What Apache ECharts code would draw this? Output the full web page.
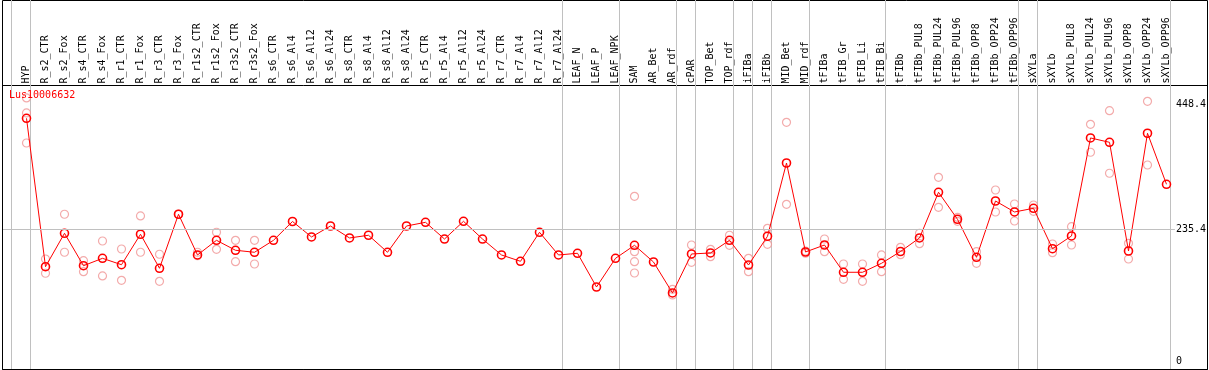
<!DOCTYPE html>
<html>
<head>
<meta charset="utf-8">
<script src="https://cdn.jsdelivr.net/npm/echarts@6.0.0/dist/echarts.min.js"></script>
<style>
  html, body { margin: 0; padding: 0; background: #fff; }
  #chart { width: 1209px; height: 370px; }
</style>
</head>
<body>
<div id="chart"></div>
<script>
var geneId = 'Lus10006632';

var categories = ['HYP',
  'R_s2_CTR', 'R_s2_Fox', 'R_s4_CTR', 'R_s4_Fox', 'R_r1_CTR', 'R_r1_Fox', 'R_r3_CTR', 'R_r3_Fox',
  'R_r1s2_CTR', 'R_r1s2_Fox', 'R_r3s2_CTR', 'R_r3s2_Fox', 'R_s6_CTR', 'R_s6_Al4', 'R_s6_Al12', 'R_s6_Al24',
  'R_s8_CTR', 'R_s8_Al4', 'R_s8_Al12', 'R_s8_Al24', 'R_r5_CTR', 'R_r5_Al4', 'R_r5_Al12', 'R_r5_Al24',
  'R_r7_CTR', 'R_r7_Al4', 'R_r7_Al12', 'R_r7_Al24',
  'LEAF_N', 'LEAF_P', 'LEAF_NPK',
  'SAM', 'AR_Bet', 'AR_rdf',
  'cPAR',
  'TOP_Bet', 'TOP_rdf',
  'iFIBa',
  'iFIBb',
  'MID_Bet', 'MID_rdf',
  'tFIBa', 'tFIB_Gr', 'tFIB_Li', 'tFIB_Bi',
  'tFIBb', 'tFIBb_PUL8', 'tFIBb_PUL24', 'tFIBb_PUL96', 'tFIBb_OPP8', 'tFIBb_OPP24', 'tFIBb_OPP96',
  'sXYLa',
  'sXYLb', 'sXYLb_PUL8', 'sXYLb_PUL24', 'sXYLb_PUL96', 'sXYLb_OPP8', 'sXYLb_OPP24', 'sXYLb_OPP96'];

// how many categories sit between two grey separators
var groupSizes = [1, 28, 3, 3, 1, 2, 1, 1, 2, 4, 7, 1, 7];

// mean value per category (red line)
var means = [424.0, 171.0, 228.0, 172.7, 185.3, 174.4, 226.3, 168.3, 260.4, 191.0,
  216.0, 199.0, 195.6, 216.0, 248.1, 221.7, 240.4, 220.0, 224.6, 195.6,
  240.4, 246.7, 218.2, 248.4, 218.2, 191.0, 180.2, 229.7, 191.0, 193.9,
  136.4, 185.3, 207.5, 179.0, 126.2, 192.7, 194.4, 216.0, 173.9, 222.9,
  347.8, 196.1, 208.0, 161.5, 161.5, 176.8, 196.9, 220.0, 297.9, 251.8,
  187.0, 283.0, 264.3, 270.6, 201.7, 223.4, 390.5, 383.1, 197.8, 398.5, 311.5];

// single replicate values per category (pale circles)
var replicates = [
  [458.7, 433.1, 381.9],
  [184.1, 159.8], [260.4, 195.6], [181.2, 162.5], [214.8, 155.2],
  [201.2, 147.8], [257.5, 195.6], [192.2, 146.1], [260.4, 260.4],
  [195.6, 189.8], [229.7, 200.7], [216.0, 179.5], [216.0, 175.6],
  [], [], [], [], [], [], [], [], [], [], [], [], [], [], [], [],
  [], [], [],
  [291.0, 196.6, 179.5, 160.3], [], [132.5, 122.8],
  [208.0, 178.5],
  [200.7, 188.1], [224.6, 207.5],
  [185.3, 162.5],
  [236.5, 209.2],
  [417.2, 277.4], [197.8, 193.9],
  [218.2, 196.6], [175.6, 149.5], [175.6, 146.1], [191.0, 162.5],
  [204.1, 191.5], [228.0, 210.2], [323.4, 272.3], [255.2, 248.4], [196.6, 176.8], [301.8, 264.3], [277.9, 248.9],
  [276.2, 265.5],
  [209.7, 194.9], [239.2, 208.0], [413.8, 366.1], [437.0, 330.3], [210.9, 184.1], [453.0, 344.4], []
];

var yTicks = [0, 235.4, 448.4];

var mono = 'DejaVu Sans Mono';

// first index of every group -> where a separator goes
var groupStarts = [];
var acc = 0;
groupSizes.forEach(function (n) {
  groupStarts.push(acc);
  acc += n;
});

var repPoints = [];
replicates.forEach(function (vals, i) {
  vals.forEach(function (v) {
    repPoints.push([i, v]);
  });
});

var myChart = echarts.init(document.getElementById('chart'));

var option = {
  animation: false,
  backgroundColor: '#fff',
  title: {
    text: geneId,
    left: 9,
    top: 90,
    padding: 0,
    textStyle: {
      color: '#ff0000',
      fontFamily: mono,
      fontSize: 10,
      fontWeight: 'normal'
    }
  },
  grid: [
    // outer frame
    { left: 2.5, right: 1.5, top: 0.5, bottom: 0.5, show: true, borderColor: '#000', borderWidth: 1, backgroundColor: 'transparent' },
    // plot frame (line under the labels)
    { left: 2.5, right: 1.5, top: 85.5, bottom: 0.5, show: true, borderColor: '#000', borderWidth: 1, backgroundColor: 'transparent' },
    // group separators
    { left: 11, right: 39, top: 0, bottom: 1 },
    // data
    { left: 26.5, right: 42.5, top: 104, bottom: 3 },
    // reference line + value labels
    { left: 3, right: 32, top: 104, bottom: 3 }
  ],
  xAxis: [
    {
      gridIndex: 2,
      type: 'category',
      data: categories,
      boundaryGap: true,
      axisLine: { show: false },
      axisTick: { show: false },
      axisLabel: { show: false },
      splitLine: {
        show: true,
        interval: function (index) {
          return groupStarts.indexOf(index) >= 0;
        },
        lineStyle: { color: '#c0c0c0', width: 1 }
      }
    },
    {
      gridIndex: 3,
      type: 'category',
      data: categories,
      boundaryGap: false,
      position: 'top',
      axisLine: { show: false },
      axisTick: { show: false },
      splitLine: { show: false },
      axisLabel: {
        interval: 0,
        rotate: 90,
        margin: 20.5,
        padding: [0, 0, 4, 0],
        color: '#000',
        fontFamily: mono,
        fontSize: 10
      }
    },
    {
      gridIndex: 4,
      type: 'value',
      min: 0,
      max: 1,
      show: false
    }
  ],
  yAxis: [
    { gridIndex: 2, type: 'value', show: false },
    { gridIndex: 3, type: 'value', min: 0, max: 448.4, show: false },
    {
      gridIndex: 4,
      type: 'value',
      position: 'right',
      min: 0,
      max: 448.4,
      axisLine: { show: false },
      axisTick: { show: false },
      splitLine: { show: false },
      axisLabel: {
        customValues: yTicks,
        margin: 1,
        color: '#000',
        fontFamily: mono,
        fontSize: 10,
        lineHeight: 12,
        verticalAlign: 'middle',
        verticalAlignMinLabel: 'bottom',
        padding: [6, 0, 0, 0]
      }
    }
  ],
  series: [
    {
      name: 'ref',
      type: 'line',
      xAxisIndex: 2,
      yAxisIndex: 2,
      data: [],
      silent: true,
      markLine: {
        silent: true,
        symbol: 'none',
        label: { show: false },
        lineStyle: { color: '#c0c0c0', width: 1, type: 'solid' },
        data: [{ yAxis: yTicks[1] }]
      }
    },
    {
      name: 'replicates',
      type: 'scatter',
      xAxisIndex: 1,
      yAxisIndex: 1,
      data: repPoints,
      symbol: 'circle',
      symbolSize: 8,
      clip: false,
      silent: true,
      z: 3,
      itemStyle: {
        color: 'rgba(0,0,0,0)',
        borderColor: '#f09696',
        borderWidth: 1.2
      }
    },
    {
      name: 'mean',
      type: 'line',
      xAxisIndex: 1,
      yAxisIndex: 1,
      data: means,
      symbol: 'circle',
      symbolSize: 8,
      showAllSymbol: true,
      clip: false,
      silent: true,
      z: 4,
      lineStyle: { color: '#ff0000', width: 1 },
      itemStyle: {
        color: 'rgba(0,0,0,0)',
        borderColor: '#ff0000',
        borderWidth: 1.6
      }
    }
  ]
};

myChart.setOption(option);
</script>
</body>
</html>
